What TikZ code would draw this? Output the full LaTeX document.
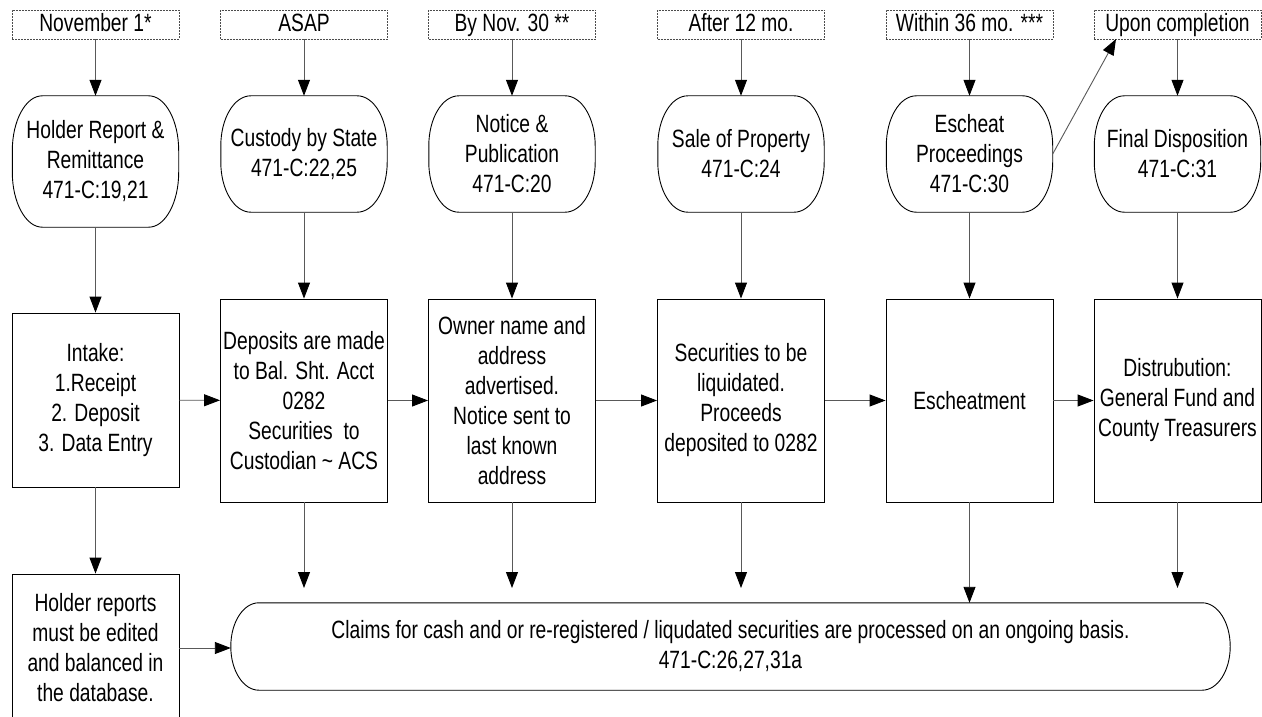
\documentclass[tikz,border=0pt]{standalone}
\usepackage{fontspec}
\setmainfont{Liberation Sans}[FakeStretch=0.77]
\usetikzlibrary{arrows.meta}
\newcommand\myround[3]{% node name, x radius, y radius
  \draw[line width=0.9pt] ([xshift=#2]#1.north west) -- ([xshift=-#2]#1.north east)
    arc[start angle=90,end angle=0,x radius=#2,y radius=#3]
    -- ([yshift=#3]#1.south east)
    arc[start angle=0,end angle=-90,x radius=#2,y radius=#3]
    -- ([xshift=#2]#1.south west)
    arc[start angle=270,end angle=180,x radius=#2,y radius=#3]
    -- ([yshift=-#3]#1.north west)
    arc[start angle=180,end angle=90,x radius=#2,y radius=#3] -- cycle;}
\begin{document}
\begin{tikzpicture}[x=1pt,y=-1pt,
  font=\fontsize{25}{30}\selectfont,
  lbl/.style={draw=black!70, dash pattern=on 2pt off 1pt, line width=0.9pt,
    minimum width=167pt, minimum height=29pt, inner sep=0pt, text height=17.7pt, text depth=3pt},
  rnd/.style={minimum width=166pt, minimum height=116pt,
    inner sep=0pt, align=center},
  box/.style={draw, minimum width=167pt, minimum height=203pt, inner sep=0pt,
    align=center, line width=0.9pt},
  arr/.style={draw=black!65, line width=0.9pt, -{Triangle[length=16pt,width=12pt,color=black]}}]
\clip (0,0) rectangle (1262,717);
\fill[white] (0,0) rectangle (1262,717);

% top labels
\node[lbl] (l1) at (95.5,24.5) {November 1*};
\node[lbl] (l2) at (304,24.5) {ASAP};
\node[lbl] (l3) at (512,24.5) {By Nov. 30 **};
\node[lbl] (l4) at (741,24.5) {After 12 mo.};
\node[lbl] (l5) at (969.5,24.5) {Within 36 mo. ***};
\node[lbl] (l6) at (1177.5,24.5) {Upon completion};

% rounded nodes
\node[rnd, minimum height=131pt] (r1) at (95.5,161.5) {Holder Report \&\\Remittance\\471-C:19,21};
\node[rnd] (r2) at (304,154) {Custody by State\\471-C:22,25};
\node[rnd] (r3) at (512,154) {Notice \&\\Publication\\471-C:20};
\node[rnd] (r4) at (741,154) {Sale of Property\\471-C:24};
\node[rnd] (r5) at (969.5,154) {Escheat\\Proceedings\\471-C:30};
\node[rnd] (r6) at (1177.5,154) {Final Disposition\\471-C:31};
\myround{r1}{30pt}{55pt}
\foreach \i in {2,...,6} {\myround{r\i}{30pt}{50pt}}

% middle boxes
\node[box, minimum height=174pt] (m1) at (95.5,400) {Intake:\\1.Receipt\\2. Deposit\\3. Data Entry};
\node[box] (m2) at (304,400.5) {Deposits are made\\to Bal. Sht. Acct\\0282\\Securities\ \ to\\Custodian \textasciitilde{} ACS};
\node[box] (m3) at (512,400.5) {Owner name and\\address\\advertised.\\Notice sent to\\last known\\address};
\node[box] (m4) at (741,400.5) {Securities to be\\liquidated.\\Proceeds\\deposited to 0282};
\node[box] (m5) at (969.5,400.5) {Escheatment};
\node[box] (m6) at (1177.5,400.5) {Distrubution:\\General Fund and\\County Treasurers};

% bottom
\node[box, minimum height=148pt] (h) at (95.5,648) {Holder reports\\must be edited\\and balanced in\\the database.};
\node[minimum width=999pt, minimum height=87pt,
  inner sep=0pt, align=center] (b) at (730.5,646.5)
  {Claims for cash and or re-registered / liqudated securities are processed on an ongoing basis.\\471-C:26,27,31a};
\myround{b}{28pt}{43.5pt}

\coordinate (e2) at (304,588);
\coordinate (e3) at (512,588);
\coordinate (e4) at (741,588);
\coordinate (e6) at (1177.5,588);
\coordinate (l6in) at (1116,39);

% connectors
\foreach \i in {1,...,6} {
  \draw[arr] (l\i) -- (r\i);
  \draw[arr] (r\i) -- (m\i);
}
\draw[arr] (r5.east) -- (l6in);
\draw[arr] (m1) -- (m2);
\draw[arr] (m2) -- (m3);
\draw[arr] (m3) -- (m4);
\draw[arr] (m4) -- (m5);
\draw[arr] (m5) -- (m6);
\draw[arr] (m1) -- (h);
\draw[arr] (h.east) -- (h.east -| b.west);
\draw[arr] (m2) -- (e2);
\draw[arr] (m3) -- (e3);
\draw[arr] (m4) -- (e4);
\draw[arr] (m5) -- (m5 |- b.north);
\draw[arr] (m6) -- (e6);
\end{tikzpicture}
\end{document}
